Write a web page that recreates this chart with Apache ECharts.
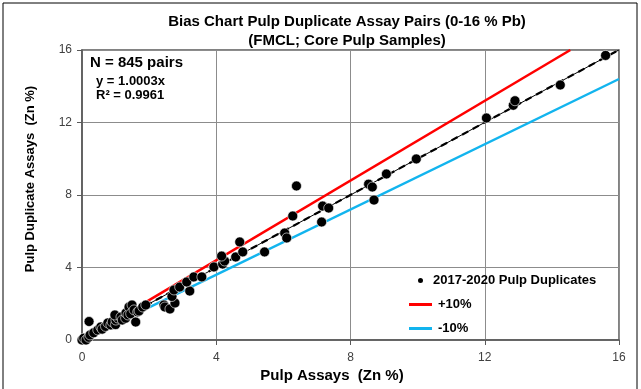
<!DOCTYPE html>
<html>
<head>
<meta charset="utf-8">
<script src="https://cdn.jsdelivr.net/npm/echarts@6/dist/echarts.min.js"></script>
<style>
html,body{margin:0;padding:0;background:#fff;}
#chart{width:641px;height:389px;}
</style>
</head>
<body>
<div id="chart"></div>
<script>
// ---- data ----
var titleLines = ['Bias Chart Pulp Duplicate Assay Pairs (0-16 % Pb)', '(FMCL; Core Pulp Samples)'];
var xAxisTitle = 'Pulp Assays  (Zn %)';
var yAxisTitle = 'Pulp Duplicate Assays  (Zn %)';
var pulpAssay = [0, 0.05, 0.12, 0.2, 0.24, 0.21, 0.35, 0.47, 0.56, 0.6, 0.7, 0.77, 0.86, 0.9, 1.0, 1.01, 1.07, 0.98, 1.16, 1.2, 1.3, 1.31, 1.37, 1.4, 1.45, 1.49, 1.55, 1.6, 1.66, 1.7, 1.81, 1.9,
  2.44, 2.47, 2.62, 2.77, 2.68, 2.74, 2.91, 3.21, 3.12, 3.33, 3.57, 3.93, 4.19, 4.25, 4.16, 4.58, 4.79, 4.7, 5.44, 6.04, 6.1, 6.28, 6.39, 7.14, 7.17, 7.35, 8.54, 8.65, 8.7, 9.07, 9.96, 12.05, 12.85, 12.9, 14.25, 15.6];
var pulpDuplicate = [0, 0.1, 0, 0.15, 0.28, 1.02, 0.4, 0.55, 0.72, 0.6, 0.75, 0.94, 0.83, 1.0, 0.85, 1.1, 1.21, 1.38, 1.27, 1.1, 1.2, 1.49, 1.38, 1.82, 1.45, 1.93, 1.66, 0.99, 1.55, 1.6, 1.82, 1.93,
  1.93, 1.82, 1.71, 2.04, 2.4, 2.76, 2.92, 2.7, 3.2, 3.48, 3.48, 4.03, 4.19, 4.36, 4.63, 4.58, 4.86, 5.41, 4.86, 5.9, 5.63, 6.84, 8.5, 6.51, 7.39, 7.28, 8.6, 8.44, 7.72, 9.16, 9.99, 12.25, 12.95, 13.2, 14.07, 15.7];
var plus10X = [1.8, 14.55];
var plus10Y = [1.98, 16];
var minus10X = [2.0, 16];
var minus10Y = [1.8, 14.4];
var trendX = [0, 16];
var trendY = [0, 16.005];
var annotN = 'N = 845 pairs';
var annotEq = 'y = 1.0003x';
var annotR2 = 'R\u00B2 = 0.9961';

function pairs(xs, ys) { return xs.map(function (x, i) { return [x, ys[i]]; }); }

var FONT = '"Liberation Sans", Arial, sans-serif';
var chart = echarts.init(document.getElementById('chart'), null, {renderer: 'canvas'});

var axisCommon = {
  type: 'value', min: 0, max: 16, interval: 4,
  axisLine: {show: true, lineStyle: {color: '#595959', width: 1.5}},
  axisTick: {show: true, inside: false, length: 5, lineStyle: {color: '#595959'}},
  splitLine: {show: true, lineStyle: {color: '#8c8c8c', width: 1}},
  axisLabel: {fontFamily: FONT, fontSize: 12, color: '#404040'}
};

var legendText = {fontFamily: FONT, fontSize: 13, fontWeight: 'bold', color: '#000'};

var option = {
  animation: false,
  backgroundColor: '#fff',
  title: {
    text: titleLines.join('\n'),
    left: 347, top: 12, padding: 0, textAlign: 'center',
    textStyle: {fontFamily: FONT, fontSize: 15, fontWeight: 'bold', color: '#000', lineHeight: 19}
  },
  grid: {left: 82, right: 22, top: 50, bottom: 49, show: true, borderColor: '#595959', borderWidth: 1.5, backgroundColor: 'transparent'},
  xAxis: Object.assign({}, axisCommon, {
    axisLabel: Object.assign({}, axisCommon.axisLabel, {margin: 12})
  }),
  yAxis: Object.assign({}, axisCommon, {
    axisLabel: Object.assign({}, axisCommon.axisLabel, {margin: 10})
  }),
  legend: [
    {data: ['2017-2020 Pulp Duplicates'], left: 416, top: 274, padding: 0, itemWidth: 7, itemHeight: 7,
      textStyle: Object.assign({}, legendText, {padding: [0, 0, 0, 4]})},
    {data: [{name: '+10%', icon: 'rect'}], left: 409, top: 298, padding: 0, itemWidth: 23, itemHeight: 3,
      textStyle: Object.assign({}, legendText, {padding: [0, 0, 0, 1]})},
    {data: [{name: '-10%', icon: 'rect'}], left: 409, top: 322, padding: 0, itemWidth: 23, itemHeight: 3,
      textStyle: Object.assign({}, legendText, {padding: [0, 0, 0, 1]})}
  ],
  graphic: [
    {type: 'rect', shape: {x: 3, y: 3, width: 634, height: 395}, style: {fill: 'none', stroke: '#000', lineWidth: 1}, silent: true, z: 100},
    {type: 'text', left: 90, top: 55, style: {text: annotN, font: 'bold 15px ' + FONT, fill: '#000'}, z: 100},
    {type: 'text', left: 96, top: 75, style: {text: annotEq, font: 'bold 13px ' + FONT, fill: '#000'}, z: 100},
    {type: 'text', left: 96, top: 89, style: {text: annotR2, font: 'bold 13px ' + FONT, fill: '#000'}, z: 100},
    {type: 'text', x: 332, y: 376, style: {text: xAxisTitle, font: 'bold 15px ' + FONT, fill: '#000', align: 'center', verticalAlign: 'middle'}, z: 100},
    {type: 'text', x: 30, y: 179, rotation: Math.PI / 2, style: {text: yAxisTitle, font: 'bold 13px ' + FONT, fill: '#000', align: 'center', verticalAlign: 'middle'}, z: 100}
  ],
  series: [
    {name: '+10%', type: 'line', data: pairs(plus10X, plus10Y), symbol: 'none', lineStyle: {color: '#ff0000', width: 2.5}, itemStyle: {color: '#ff0000'}, z: 2},
    {name: '-10%', type: 'line', data: pairs(minus10X, minus10Y), symbol: 'none', lineStyle: {color: '#12b4ee', width: 2.5}, itemStyle: {color: '#12b4ee'}, z: 2},
    {name: 'trend', type: 'line', data: pairs(trendX, trendY), symbol: 'none', lineStyle: {color: '#000', width: 1}, z: 3},
    {name: 'trendDash', type: 'line', data: pairs(trendX, trendY), symbol: 'none', lineStyle: {color: '#000', width: 2.2, type: [7, 5]}, z: 3},
    {name: '2017-2020 Pulp Duplicates', type: 'scatter', data: pairs(pulpAssay, pulpDuplicate), symbol: 'circle', symbolSize: 10,
      itemStyle: {color: '#000', borderColor: '#fff', borderWidth: 0.6, opacity: 1}, z: 5}
  ]
};
chart.setOption(option);
</script>
</body>
</html>
